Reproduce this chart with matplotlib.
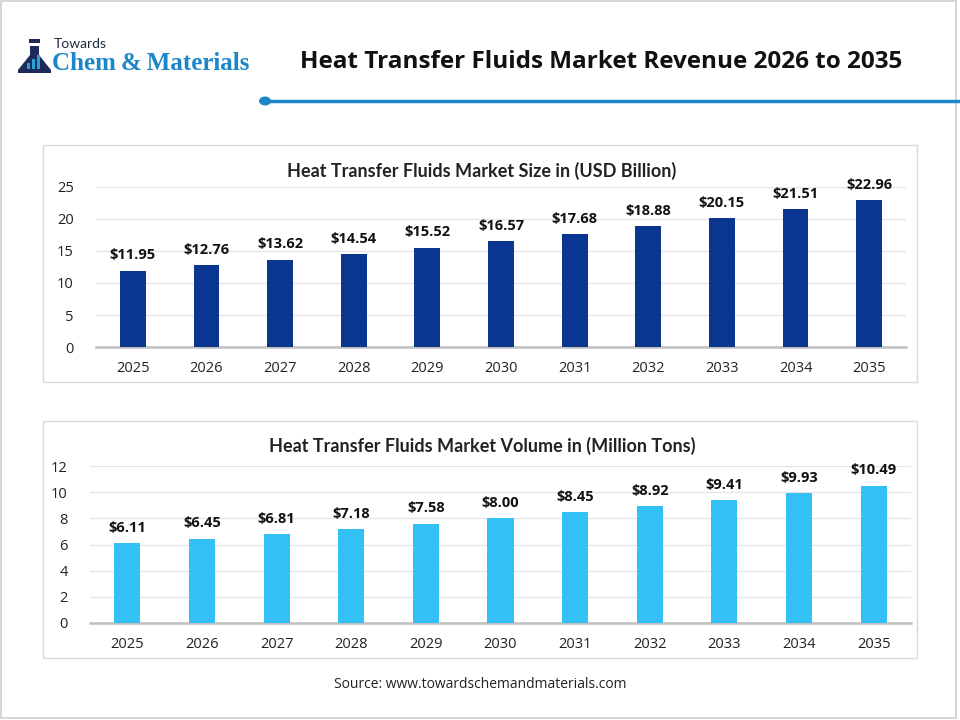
import matplotlib
matplotlib.use('Agg')
import matplotlib.pyplot as plt
from matplotlib.patches import Rectangle, Circle, Polygon
from matplotlib.lines import Line2D

years = ['2025', '2026', '2027', '2028', '2029', '2030', '2031', '2032', '2033', '2034', '2035']
revenue = [11.95, 12.76, 13.62, 14.54, 15.52, 16.57, 17.68, 18.88, 20.15, 21.51, 22.96]
volume = [6.11, 6.45, 6.81, 7.18, 7.58, 8.00, 8.45, 8.92, 9.41, 9.93, 10.49]
rev_ticks = [0, 5, 10, 15, 20, 25]
vol_ticks = [0, 2, 4, 6, 8, 10, 12]

W, H = 960, 720
fig = plt.figure(figsize=(9.6, 7.2), dpi=100)
fig.patch.set_facecolor('white')


def px_rect(x0, y0, x1, y1):
    # pixel box (top-left origin) -> figure fraction
    return [x0 / W, 1 - y1 / H, (x1 - x0) / W, (y1 - y0) / H]


def fx(x):
    return x / W


def fy(y):
    return 1 - y / H


# outer frame
fig.add_artist(Rectangle((fx(1), fy(718)), (956 - 1) / W, (718 - 1) / H, transform=fig.transFigure,
                         fill=False, edgecolor='#cfcfcf', lw=1.2))

# --- logo ---
flask = Polygon([(fx(30), fy(46)), (fx(30), fy(55)), (fx(18), fy(70)), (fx(18), fy(73)),
                 (fx(51), fy(73)), (fx(51), fy(70)), (fx(39), fy(55)), (fx(39), fy(46))],
                closed=True, transform=fig.transFigure, facecolor='#1d2a5a', edgecolor='none')
fig.add_artist(flask)
fig.add_artist(Rectangle((fx(29), fy(43)), 11 / W, 4 / H, transform=fig.transFigure,
                         facecolor='#1d2a5a', edgecolor='none'))
for bx, bh in [(27, 6), (32, 10), (37, 14)]:
    fig.add_artist(Rectangle((fx(bx), fy(69)), 3 / W, bh / H, transform=fig.transFigure,
                             facecolor='#2a9fd8', edgecolor='none'))
fig.text(fx(54), fy(44), 'Towards', fontsize=10, color='#1d2a3a', family='Lato',
         ha='left', va='center')
fig.text(fx(52), fy(63), 'Chem\u2009&\u2009Materials', fontsize=18, color='#1b86c8', fontweight='bold',
         family=['Liberation Serif', 'DejaVu Serif'], ha='left', va='center')

# --- main title ---
fig.text(fx(601), fy(62), 'Heat Transfer Fluids Market Revenue 2026 to 2035', fontsize=17.5,
         fontweight='bold', color='#111111', family='Open Sans', ha='center', va='center')
fig.add_artist(Line2D([fx(265), fx(960)], [fy(101), fy(101)], transform=fig.transFigure,
                      color='#1b86c8', lw=2.5))
fig.add_artist(Circle((fx(265), fy(101)), 6 / W, transform=fig.transFigure,
                      facecolor='#1b86c8', edgecolor='none'))


def panel(box, ax_rect, vals, ticks, color, title, title_y):
    fig.add_artist(Rectangle((fx(box[0]), fy(box[3])), (box[2] - box[0]) / W, (box[3] - box[1]) / H,
                             transform=fig.transFigure, fill=False, edgecolor='#d9d9d9', lw=1))
    fig.text(fx((box[0] + box[2]) / 2 + 2), fy(title_y), title, fontsize=13, fontweight='bold',
             color='#222222', family='Lato', ha='center', va='center')
    ax = fig.add_axes(px_rect(*ax_rect))
    x = range(len(years))
    ax.bar(x, vals, width=0.35, color=color, zorder=3)
    ax.set_xlim(-0.5, len(years) - 0.5)
    ax.set_ylim(ticks[0], ticks[-1])
    ax.set_yticks(ticks)
    ax.set_xticks(list(x))
    ax.set_xticklabels(years)
    ax.yaxis.grid(True, color='#e6e6e6', lw=1, zorder=0)
    ax.set_axisbelow(True)
    for s in ['top', 'right', 'left']:
        ax.spines[s].set_visible(False)
    ax.spines['bottom'].set_color('#bfbfbf')
    ax.spines['bottom'].set_linewidth(1.8)
    ax.tick_params(axis='both', length=0, labelsize=10.5, labelcolor='#222222')
    ax.tick_params(axis='y', pad=16)
    ax.tick_params(axis='x', pad=10)
    for lbl in ax.get_xticklabels() + ax.get_yticklabels():
        lbl.set_family('Open Sans')
    for i, v in enumerate(vals):
        ax.annotate(f'${v:.2f}', (i, v), xytext=(0, 6), textcoords='offset points',
                    ha='center', va='bottom', fontsize=10.5, fontweight='bold',
                    color='#111111', family='Open Sans', annotation_clip=False)
    return ax


panel((43, 145, 917, 382), (96, 187, 906, 347), revenue, rev_ticks, '#0a3591',
      'Heat Transfer Fluids Market Size in (USD Billion)', 171)
panel((43, 421, 917, 658), (90, 466, 911, 623), volume, vol_ticks, '#33c0f5',
      'Heat Transfer Fluids Market Volume in (Million Tons)', 446)

fig.text(fx(480), fy(685), 'Source: www.towardschemandmaterials.com', fontsize=10,
         color='#222222', family='Open Sans', ha='center', va='center')

fig.savefig('out.png', dpi=100, facecolor='white')
